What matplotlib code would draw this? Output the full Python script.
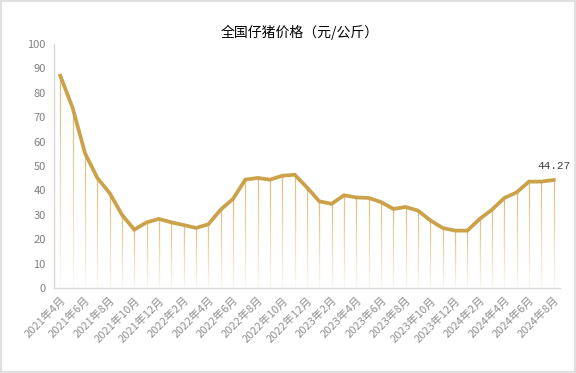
import matplotlib
matplotlib.use("Agg")
import matplotlib.pyplot as plt
import numpy as np
from matplotlib.collections import LineCollection
from matplotlib.patches import Rectangle

plt.rcParams['font.family'] = ['Noto Sans CJK SC', 'DejaVu Sans']

title = "全国仔猪价格（元/公斤）"
months = []
for y in (2021, 2022, 2023, 2024):
    for m in range(1, 13):
        if (y == 2021 and m < 4) or (y == 2024 and m > 8):
            continue
        months.append(f"{y}年{m}月")
values = [87.0, 73.8, 55.3, 45.1, 38.9, 30.0, 23.9, 26.9, 28.3, 26.9,
          25.8, 24.6, 26.1, 32.1, 36.5, 44.4, 45.1, 44.4, 46.0, 46.4,
          41.2, 35.5, 34.5, 38.0, 37.1, 36.9, 35.2, 32.4, 33.2, 31.7,
          27.7, 24.6, 23.5, 23.5, 28.3, 32.1, 36.9, 39.2, 43.6, 43.6, 44.27]
last_label = "44.27"

gold = "#CBA24A"

fig = plt.figure(figsize=(5.76, 3.73), dpi=100)
ax = fig.add_axes([0.094, 0.228, 0.878, 0.654])

x = np.arange(len(values))
# gradient drop lines
nseg = 40
segs, cols = [], []
base = np.array(matplotlib.colors.to_rgb(gold))
for xi, v in zip(x, values):
    edges = np.linspace(0, v, nseg + 1)
    for k in range(nseg):
        segs.append([(xi, edges[k]), (xi, edges[k + 1])])
        t = (edges[k] + edges[k + 1]) / 2 / v
        a = 0.05 + 0.7 * t
        cols.append((*base, a))
lc = LineCollection(segs, colors=cols, linewidths=0.9, zorder=2)
ax.add_collection(lc)

ax.plot(x, values, color=gold, lw=2.7, zorder=3, solid_joinstyle='miter')
ax.text(x[-1], values[-1] + 3.5, last_label, ha='center', va='bottom',
        fontsize=8, color='#404040', family=['Liberation Mono', 'DejaVu Sans'])

ax.set_xlim(-0.5, len(values) - 0.5)
ax.set_ylim(0, 100)
ax.set_yticks(np.arange(0, 101, 10))
ax.tick_params(axis='y', length=0, labelsize=8, labelcolor='#808080', pad=6)
ax.set_xticks(x[::2])
ax.set_xticklabels(months[::2], rotation=45, ha='right', va='top',
                   rotation_mode='anchor', fontsize=8, color='#909090')
ax.tick_params(axis='x', length=0, pad=5)
for s in ('top', 'right'):
    ax.spines[s].set_visible(False)
for s in ('left', 'bottom'):
    ax.spines[s].set_color('#D9D9D9')
    ax.spines[s].set_linewidth(1.0)

fig.text(0.52, 0.912, title, ha='center', va='center', fontsize=10, color='black')
fig.patches.append(Rectangle((0.002, 0.003), 0.996, 0.994, transform=fig.transFigure,
                             fill=False, edgecolor='#D9D9D9', lw=1.2))

fig.savefig("out.png", dpi=100)
